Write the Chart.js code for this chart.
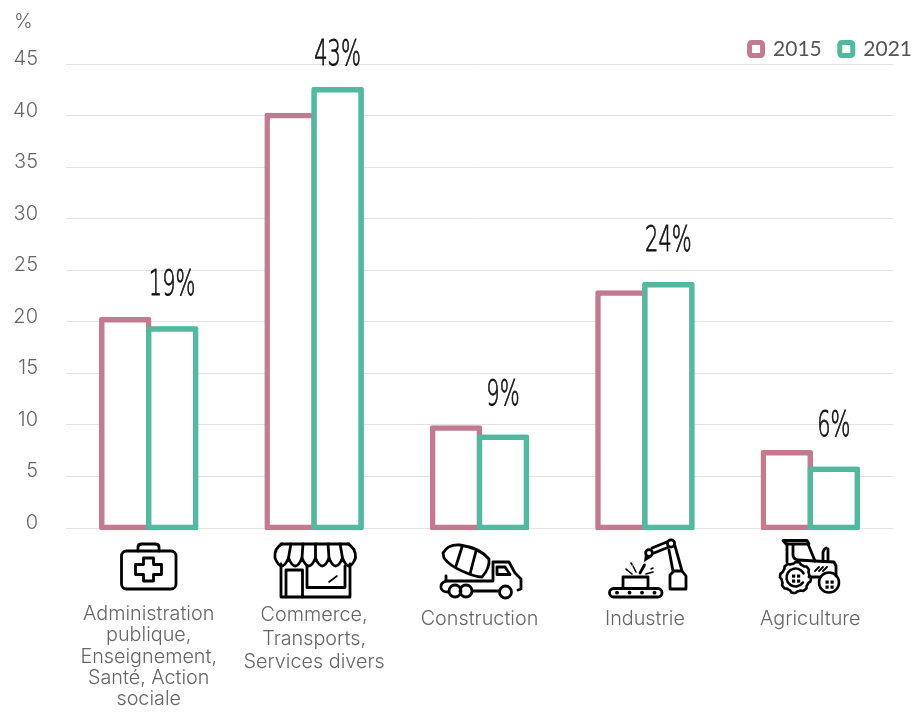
<!DOCTYPE html>
<html lang="fr">
<head>
<meta charset="utf-8">
<style>html,body{margin:0;padding:0;background:#fff}canvas{display:block}</style>
<script src="https://cdn.jsdelivr.net/npm/chart.js@4/dist/chart.umd.min.js"></script>
</head>
<body>
<canvas id="c" width="920" height="715"></canvas>
<script>
const categories = [
  ["Administration", "publique,", "Enseignement,", "Santé, Action", "sociale"],
  ["Commerce,", "Transports,", "Services divers"],
  "Construction",
  "Industrie",
  "Agriculture"
];
const values2015 = [20.2, 40.0, 9.7, 22.8, 7.3];
const values2021 = [19.3, 42.5, 8.8, 23.6, 5.7];
const shareLabels = ["19%", "43%", "9%", "24%", "6%"];
const shareLift = [43, 34, 41, 43, 42];
const labelLineHeights = [21.25, 23.5, 31, 31, 31];
const iconNames = ["kit", "shop", "truck", "robot", "tractor"];

const PINK = "#C27B8E", TEAL = "#52B9A0", GREY = "#666666";
const uiFont = "Inter, 'Liberation Sans', sans-serif";

function line(c, pts, close) {
  c.beginPath();
  pts.forEach((p, i) => i ? c.lineTo(p[0], p[1]) : c.moveTo(p[0], p[1]));
  if (close) c.closePath();
  c.stroke();
}
function circle(c, x, y, r, fill) {
  c.beginPath(); c.arc(x, y, r, 0, Math.PI * 2);
  fill ? c.fill() : c.stroke();
}
function rrect(c, x, y, w, h, r) {
  c.beginPath(); c.roundRect(x, y, w, h, r); c.stroke();
}
const icons = {
  kit: { home: 148.7, draw(c) {
    rrect(c, 121.5, 551, 54.5, 38, 5);
    c.beginPath(); c.moveTo(138, 551); c.lineTo(138, 547); c.quadraticCurveTo(138, 544, 142, 544);
    c.lineTo(155, 544); c.quadraticCurveTo(159, 544, 159, 547); c.lineTo(159, 551); c.stroke();
    c.beginPath();
    const a = 148.5, b = 569.5, s = 5, l = 13, h = 11.5;
    c.moveTo(a - s, b - h); c.lineTo(a + s, b - h); c.lineTo(a + s, b - s); c.lineTo(a + l, b - s);
    c.lineTo(a + l, b + s); c.lineTo(a + s, b + s); c.lineTo(a + s, b + h); c.lineTo(a - s, b + h);
    c.lineTo(a - s, b + s); c.lineTo(a - l, b + s); c.lineTo(a - l, b - s); c.lineTo(a - s, b - s);
    c.closePath(); c.lineJoin = "round"; c.stroke();
  }},
  shop: { home: 314.1, draw(c) {
    c.beginPath(); c.moveTo(281, 544); c.lineTo(349, 544); c.stroke();
    const xs = [275, 288.5, 302, 315.5, 329, 342.5, 355.5];
    c.beginPath();
    c.moveTo(282, 544); c.quadraticCurveTo(274, 548, 275, 558);
    for (let i = 0; i < 6; i++) {
      c.quadraticCurveTo((xs[i] + xs[i + 1]) / 2, 574, xs[i + 1], 558);
    }
    c.quadraticCurveTo(356, 548, 348, 544);
    c.stroke();
    [[291, 544, 288.5], [303, 544, 302], [315.5, 544, 315.5], [328, 544, 329], [340, 544, 342.5]].forEach(p => {
      c.beginPath(); c.moveTo(p[0], p[1]); c.quadraticCurveTo((p[0] + p[2]) / 2 , 550, p[2], 558); c.stroke();
    });
    line(c, [[281, 564], [281, 597], [350, 597], [350, 564]]);
    line(c, [[286, 597], [286, 570], [302.5, 570], [302.5, 597]]);
    line(c, [[307, 566], [307, 587.5], [345, 587.5], [345, 566]]);
    c.lineWidth = 1.6; line(c, [[329, 582], [337, 576]]);
  }},
  truck: { home: 479.5, draw(c) {
    c.beginPath();
    c.moveTo(443, 553); c.quadraticCurveTo(448, 544, 460, 545);
    c.quadraticCurveTo(480, 548, 489, 559);
    c.quadraticCurveTo(490, 568, 482, 577);
    c.quadraticCurveTo(475, 577, 462, 571);
    c.quadraticCurveTo(450, 566, 444, 558);
    c.closePath(); c.stroke();
    line(c, [[462, 547], [456, 566]]);
    line(c, [[476, 551], [470, 574]]);
    line(c, [[446, 581], [492, 581]]);
    c.beginPath(); c.moveTo(446, 576); c.lineTo(446, 581); c.quadraticCurveTo(440, 583, 441, 588);
    c.quadraticCurveTo(442, 592, 448, 592); c.stroke();
    line(c, [[493, 581], [493, 562], [509, 562], [515, 573], [521, 579], [521, 589], [518, 590]]);
    line(c, [[497, 574.5], [497, 567], [505, 567], [510, 574.5]], true);
    circle(c, 455, 591, 6); circle(c, 466, 591, 6); circle(c, 505.5, 592, 6);
    line(c, [[473, 591], [498, 591]]);
  }},
  robot: { home: 644.9, draw(c) {
    rrect(c, 609.5, 588.5, 52.5, 8.5, 4.2);
    [617, 629.5, 642, 654.5].forEach(x => circle(c, x, 592.7, 1.9, true));
    line(c, [[623, 587], [623, 577], [648, 577], [648, 587]]);
    c.beginPath(); c.moveTo(670, 589); c.lineTo(670, 575); c.lineTo(674, 571); c.lineTo(682, 571); c.lineTo(686, 576); c.lineTo(686, 589); c.closePath(); c.stroke();
    line(c, [[673, 571], [669, 550]]);
    line(c, [[682, 571], [675, 546]]);
    circle(c, 671, 543.5, 3.6);
    line(c, [[668, 541.5], [652, 548]]);
    line(c, [[669, 547], [654, 553]]);
    circle(c, 649, 553, 3.4);
    c.beginPath(); c.moveTo(645, 554); c.lineTo(652, 557); c.lineTo(644, 562); c.closePath(); c.fill();
    line(c, [[640, 573], [644.5, 565]]);
    c.lineWidth = 1.6;
    line(c, [[636, 572], [633, 566]]);
    line(c, [[632, 574], [627, 570]]);
    line(c, [[646, 574], [653, 572]]);
    line(c, [[631, 563], [632, 564.5]]);
    line(c, [[626, 569], [627, 570]]);
    line(c, [[651, 569], [653, 568]]);
  }},
  tractor: { home: 810.3, draw(c) {
    line(c, [[783, 540.5], [807, 540.5], [809, 544], [786, 544]], true);
    line(c, [[787, 544], [787, 562]]);
    line(c, [[808, 544], [815, 561]]);
    c.beginPath(); c.moveTo(793, 545); c.lineTo(793, 555); c.quadraticCurveTo(793, 559, 798, 560); c.lineTo(815, 561); c.stroke();
    line(c, [[815, 561], [834, 562], [836, 566], [836, 576]]);
    line(c, [[809, 577], [819, 577]]);
    c.beginPath(); c.moveTo(823, 561); c.lineTo(823, 552); c.quadraticCurveTo(824, 549, 826, 548); c.stroke();
    line(c, [[828, 549], [828, 561]]);
    c.lineWidth = 1.8;
    [0, 4, 8].forEach(d => line(c, [[815 + d, 571], [819 + d, 567]]));
    c.lineWidth = 2.6;
    c.beginPath();
    for (let i = 0; i < 48; i++) {
      const a = i / 48 * Math.PI * 2, r = i % 6 < 3 ? 15.5 : 14;
      const x = 795.5 + r * Math.cos(a), y = 577.5 + r * Math.sin(a);
      i ? c.lineTo(x, y) : c.moveTo(x, y);
    }
    c.closePath(); c.stroke();
    c.beginPath(); c.arc(795.5, 577.5, 9, 0.6, Math.PI * 1.85); c.stroke();
    [[796, 801.5], [829.5, 835]].forEach((u, k) => {
      const y0 = k ? 581 : 575;
      [0, 5].forEach(dx => [0, 5].forEach(dy => {
        c.fillRect(u[0] - 4 + dx, y0 + dy - 0.5, 3.2, 3.2);
      }));
    });
    circle(c, 829, 582.5, 10);
  }}
};

const plotDecor = {
  id: "plotDecor",
  afterLayout(chart) {
    const lg = chart.legend;
    lg.left += 37; lg.right += 37;
    lg.top = 20.5; lg.bottom = 64;
  },
  afterDatasetsDraw(chart) {
    // the 2021 bars sit on top of the 2015 bars where their edges overlap
    chart.getDatasetMeta(1).data.forEach(el => el.draw(chart.ctx));
  },
  afterDraw(chart) {
    const c = chart.ctx, x = chart.scales.x;
    iconNames.forEach((n, i) => {
      const ic = icons[n];
      c.save();
      c.translate(x.getPixelForValue(i) - ic.home, 0);
      c.strokeStyle = "#000"; c.fillStyle = "#000";
      c.lineWidth = 2.8; c.lineJoin = "round"; c.lineCap = "round";
      ic.draw(c);
      c.restore();
    });
    const meta = chart.getDatasetMeta(1);
    shareLabels.forEach((t, i) => {
      const el = meta.data[i];
      c.save();
      c.translate(el.x, el.y - shareLift[i]);
      c.scale(0.6, 1);
      c.font = "200 35px 'DejaVu Sans', sans-serif";
      c.fillStyle = "#111"; c.strokeStyle = "#111"; c.lineWidth = 0.8;
      c.textAlign = "center"; c.textBaseline = "middle";
      c.fillText(t, 0, 0);
      c.strokeText(t, 0, 0);
      c.restore();
    });
  }
};

const barStyle = {
  backgroundColor: "#ffffff",
  borderWidth: 5.5,
  borderSkipped: false,
  borderRadius: 2,
  inflateAmount: 2.75,
  categoryPercentage: 0.568,
  barPercentage: 1,
  clip: false
};

new Chart(document.getElementById("c"), {
  type: "bar",
  data: {
    labels: categories,
    datasets: [
      { label: "2015", data: values2015, borderColor: PINK, ...barStyle },
      { label: "2021", data: values2021, borderColor: TEAL, ...barStyle }
    ]
  },
  plugins: [plotDecor],
  options: {
    responsive: false,
    animation: false,
    layout: { padding: { left: 14, right: 27, top: 10, bottom: 0 } },
    plugins: {
      tooltip: { enabled: false },
      title: {
        display: true, text: "%", align: "start", color: GREY,
        font: { family: uiFont, size: 20, weight: "300" },
        padding: { top: 0, bottom: 4 }
      },
      legend: {
        position: "top", align: "end", maxHeight: 26,
        labels: {
          boxWidth: 13, boxHeight: 13, padding: 18, color: "#555555",
          font: { family: "Lato, sans-serif", size: 21 },
          generateLabels(chart) {
            return chart.data.datasets.map((d, i) => ({
              text: d.label, fillStyle: "#fff", strokeStyle: d.borderColor,
              lineWidth: 5, datasetIndex: i, fontColor: "#555555",
              borderRadius: 2
            }));
          }
        }
      }
    },
    scales: {
      x: {
        afterFit(s) { s.height = 187; s.paddingLeft = 0; s.paddingRight = 0; },
        grid: { display: false },
        border: { display: false },
        ticks: {
          autoSkip: false, maxRotation: 0, minRotation: 0, padding: 67.5, color: GREY,
          font: ctx => ({ family: uiFont, size: 19.8, weight: "300", lineHeight: labelLineHeights[ctx.index] + "px" })
        }
      },
      y: {
        min: 0, max: 45,
        afterFit(s) { s.width = 52; },
        border: { display: false },
        grid: { color: "#E3E3E3", lineWidth: 1, drawTicks: false },
        ticks: {
          stepSize: 5, padding: 28, labelOffset: -5, color: GREY,
          font: { family: uiFont, size: 20, weight: "300" }
        }
      }
    }
  }
});
</script>
</body>
</html>
